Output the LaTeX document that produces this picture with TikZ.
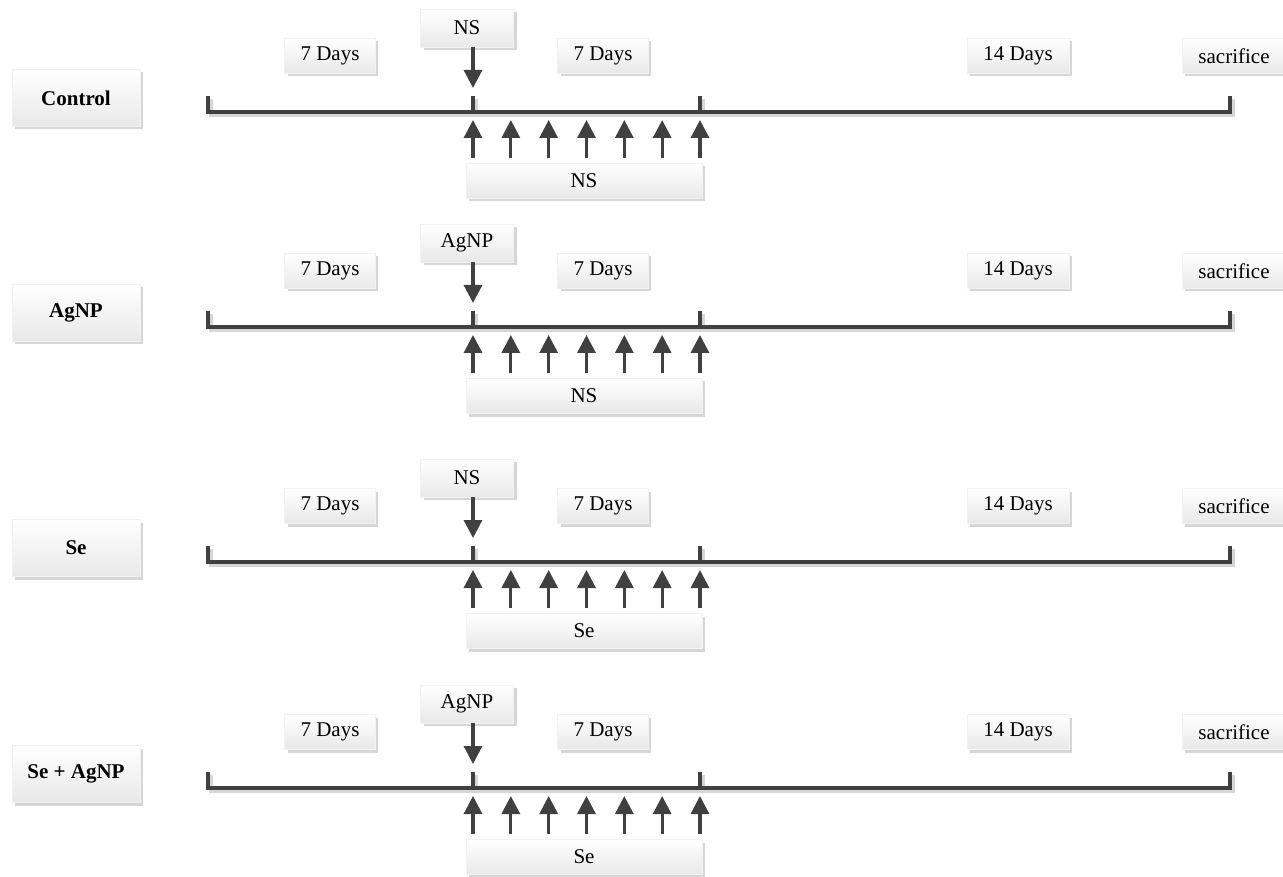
\documentclass[tikz,border=0pt]{standalone}
\usepackage{fontspec}
\setmainfont{Liberation Serif}
\usetikzlibrary{arrows.meta,shadows}

\definecolor{linegray}{HTML}{404040}
\definecolor{shadegray}{HTML}{D6D6D6}

\tikzset{
  box/.style={shade, top color=white, bottom color=black!9, draw=black!5, inner sep=0pt,
    drop shadow={shadow xshift=3pt, shadow yshift=-3pt, fill=shadegray, opacity=1},
    font=\fontsize{21}{25}\selectfont},
  groupbox/.style={box, minimum width=128pt, minimum height=57pt},
  daybox/.style={box, inner xsep=16pt, minimum height=35pt},
  injbox/.style={box, minimum width=93pt, minimum height=38pt},
  trtbox/.style={box, minimum width=236pt, minimum height=35pt},
  stem/.style={draw=linegray, line width=3.2pt},
  stemshadow/.style={draw=shadegray, line width=3.2pt, transform canvas={shift={(3pt,-3pt)}}},
  dose/.style={draw=linegray, line width=3.2pt, -{Triangle[width=18pt,length=18pt]}}
}

\begin{document}
\begin{tikzpicture}[x=1pt, y=-1pt]
\useasboundingbox (0,0) rectangle (1283,877);
\foreach \ty/\grp/\inj/\trt [count=\r] in {112/Control/NS/NS, 327/AgNP/AgNP/NS, 562/Se/NS/Se, 788/Se + AgNP/AgNP/Se}{
  % points on the time line
  \coordinate (t0-\r) at (208,\ty);
  \coordinate (t1-\r) at (473,\ty);
  \coordinate (t2-\r) at (700,\ty);
  \coordinate (t3-\r) at (1230,\ty);
  % time line with its shadow
  \draw[stemshadow] ([yshift=16pt]t0-\r) -- (t0-\r) -- (t3-\r) -- ([yshift=16pt]t3-\r);
  \draw[stemshadow] ([yshift=16pt]t1-\r) -- (t1-\r);
  \draw[stemshadow] ([yshift=16pt]t2-\r) -- (t2-\r);
  \draw[stem] ([yshift=16pt]t0-\r) -- (t0-\r) -- (t3-\r) -- ([yshift=16pt]t3-\r);
  \draw[stem] ([yshift=16pt]t1-\r) -- (t1-\r);
  \draw[stem] ([yshift=16pt]t2-\r) -- (t2-\r);
  % labels
  \node[groupbox] (grp-\r) at (76,\ty-14) {\textbf{\grp}};
  \node[daybox] (da-\r) at (330,\ty-56) {7 Days};
  \node[daybox] (db-\r) at (603,\ty-56) {7 Days};
  \node[daybox] (dc-\r) at (1018,\ty-56) {14 Days};
  \node[daybox] (ds-\r) at (1234,\ty-56) {sacrifice};
  \node[injbox] (inj-\r) at (467,\ty-84) {\inj};
  \node[trtbox] (trt-\r) at (584,\ty+69) {\trt};
  % doses
  \draw[dose, shorten >=24pt] (inj-\r.south -| t1-\r) -- (t1-\r);
  \foreach \i in {0,...,6}{
    \path (t1-\r) ++(\i*37.83,0) coordinate (s-\r-\i);
    \draw[dose, shorten <=5pt, shorten >=8pt] (trt-\r.north -| s-\r-\i) -- (s-\r-\i);
  }
}
\end{tikzpicture}
\end{document}
